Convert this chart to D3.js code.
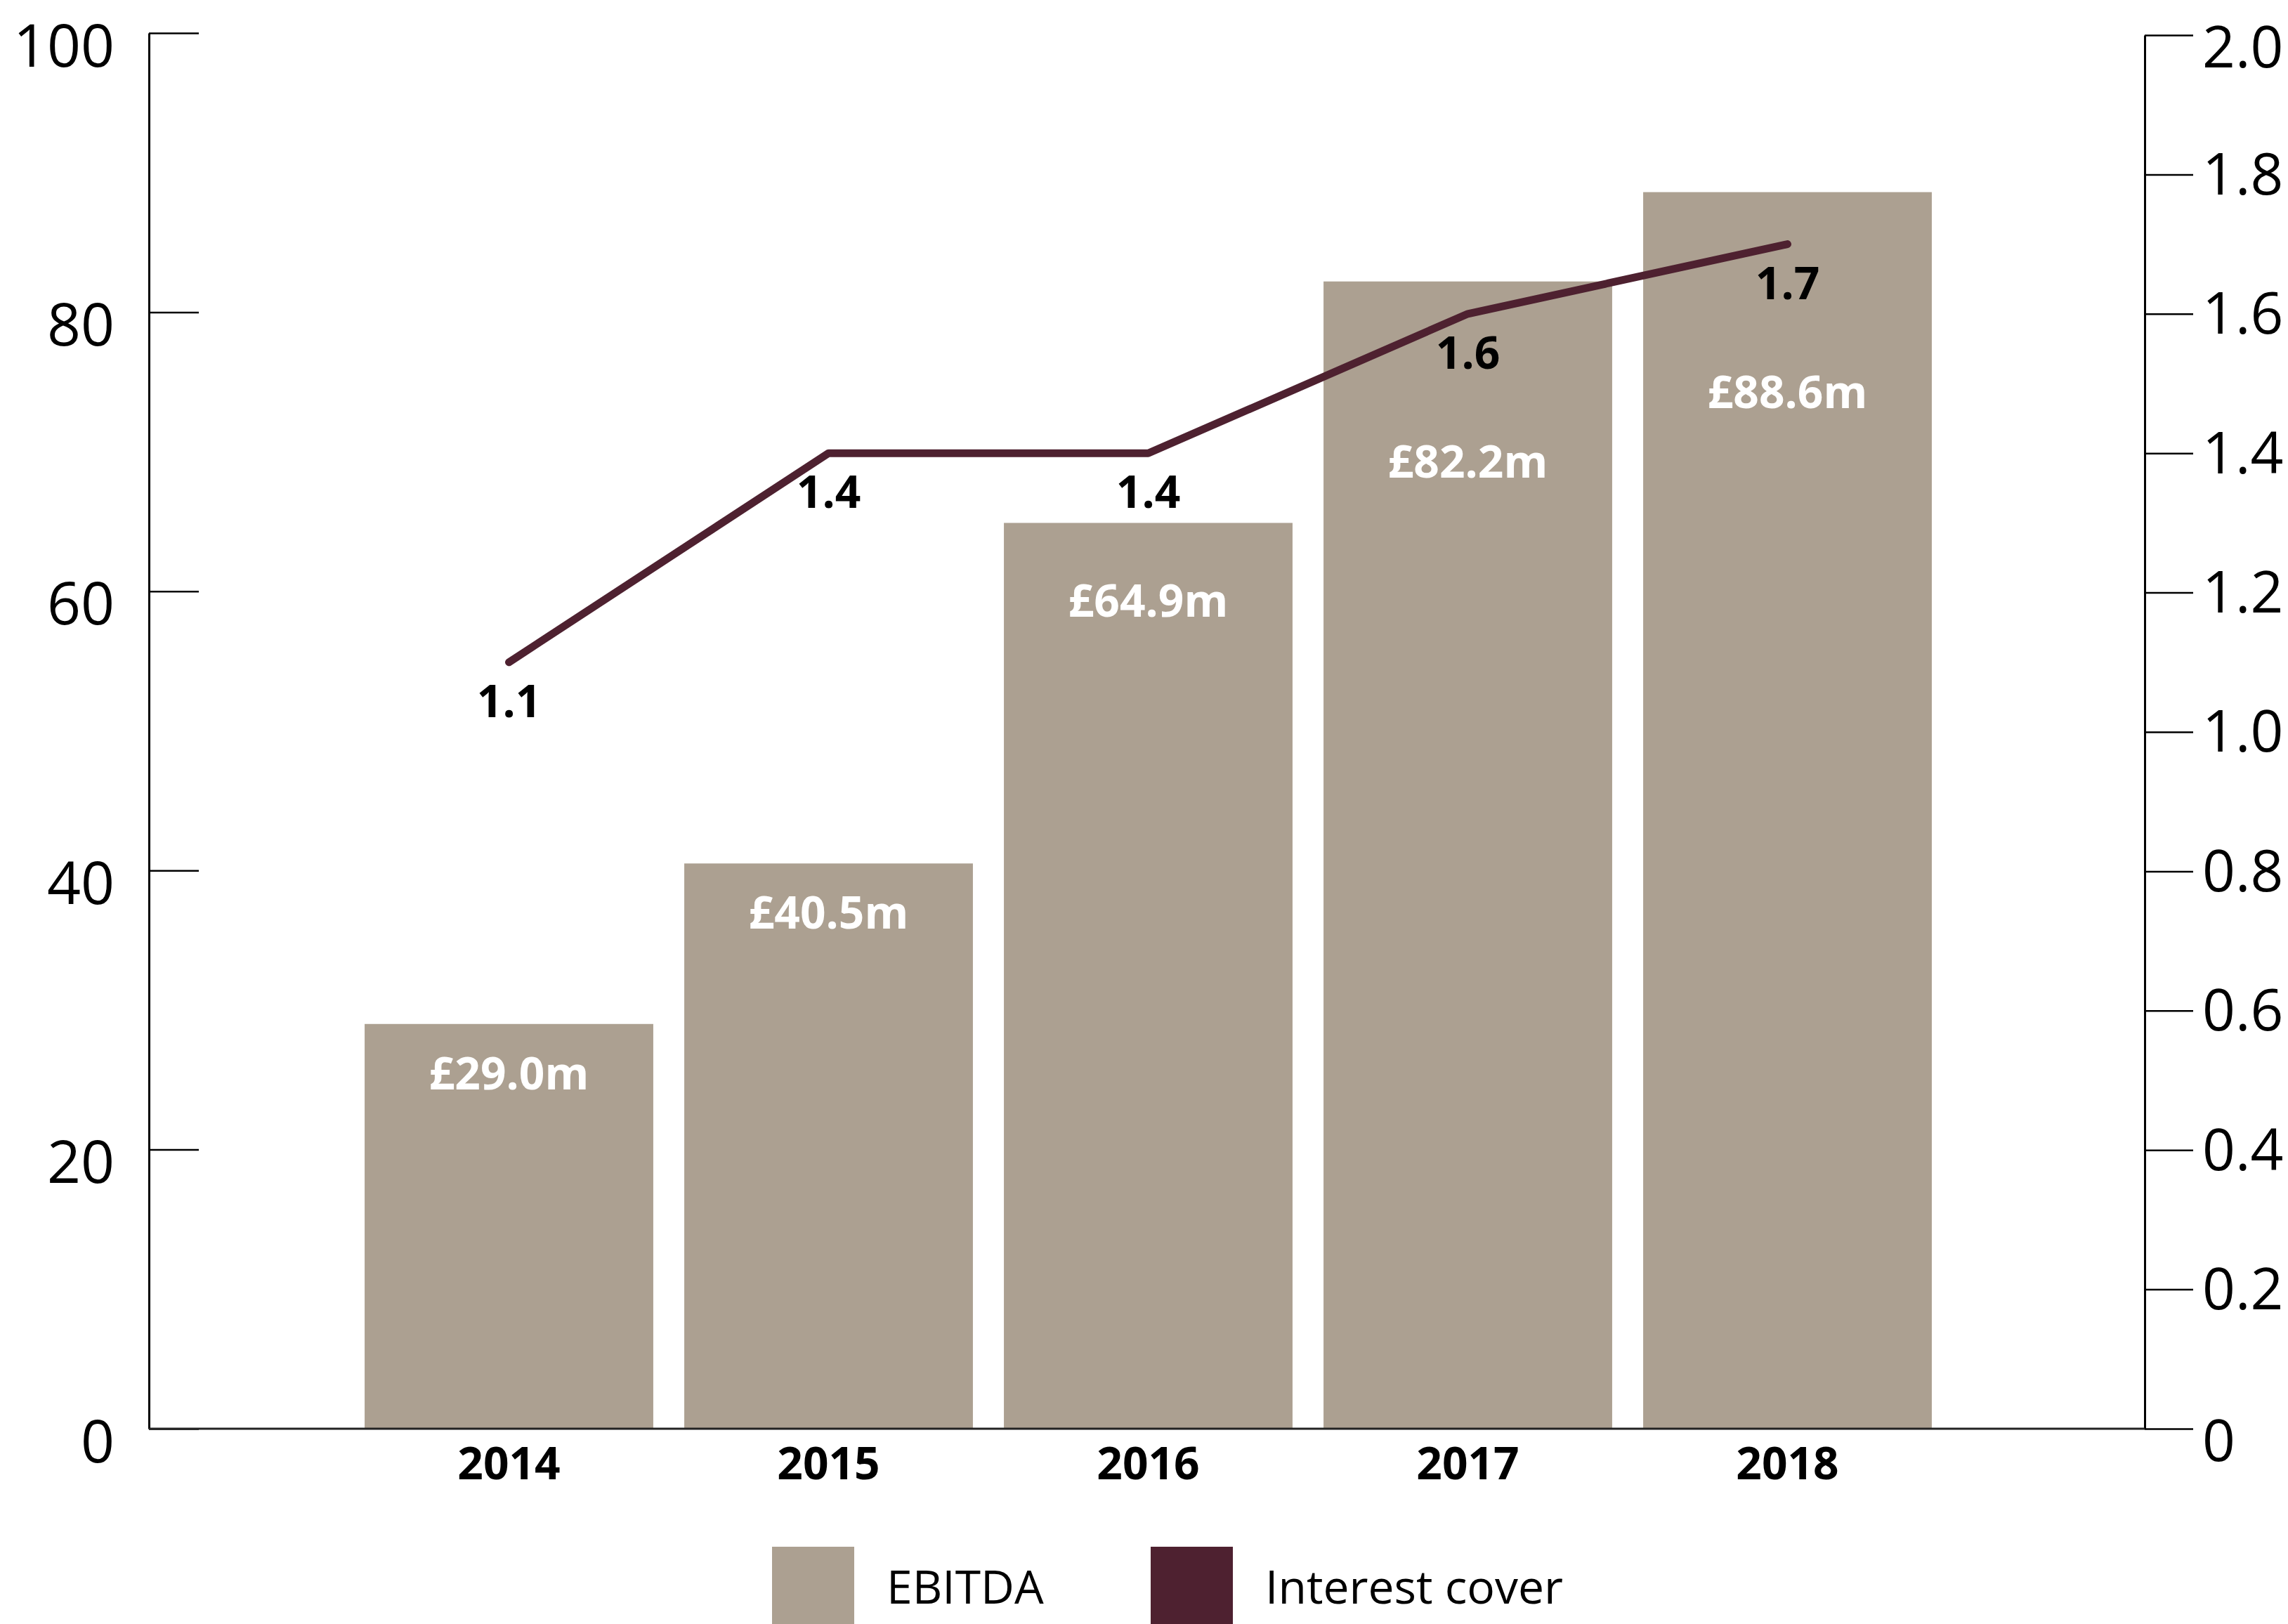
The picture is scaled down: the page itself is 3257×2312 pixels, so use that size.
<!DOCTYPE html>
<html>
<head>
<meta charset="utf-8">
<script src="https://cdn.jsdelivr.net/npm/d3@7/dist/d3.min.js"></script>
<style>
  html, body { margin: 0; padding: 0; background: #ffffff; }
  svg { display: block; font-family: "Open Sans", "Noto Sans", sans-serif; }
</style>
</head>
<body>
<script>
// EBITDA (£m) and interest cover by financial year
const years = ["2014", "2015", "2016", "2017", "2018"];
const ebitda = [29.0, 40.5, 64.9, 82.2, 88.6];
const interestCover = [1.1, 1.4, 1.4, 1.6, 1.7];
const leftTicks = [0, 20, 40, 60, 80, 100];
const rightTicks = [0, 0.2, 0.4, 0.6, 0.8, 1.0, 1.2, 1.4, 1.6, 1.8, 2.0];
const legendLabels = ["EBITDA", "Interest cover"];

const W = 3257, H = 2312;
const barColor = "#aca091";
const lineColor = "#4e2130";

const plot = { left: 212, right: 3053, bottom: 2034 };

const svg = d3.select("body").append("svg")
  .attr("width", W).attr("height", H);

const x = d3.scaleBand()
  .domain(years)
  .range([497, 2772])
  .paddingInner(0.097)
  .paddingOuter(0.0485);

const yL = d3.scaleLinear().domain([0, 100]).range([plot.bottom, 47]);
const yR = d3.scaleLinear().domain([0, 2]).range([plot.bottom, 50]);

// Bars
svg.append("g").selectAll("rect")
  .data(years)
  .join("rect")
  .attr("x", d => x(d))
  .attr("width", x.bandwidth())
  .attr("y", (d, i) => yL(ebitda[i]))
  .attr("height", (d, i) => plot.bottom - yL(ebitda[i]))
  .attr("fill", barColor);

// Left axis: ticks point into the plot
const gL = svg.append("g")
  .attr("transform", `translate(${plot.left},0)`)
  .call(d3.axisLeft(yL).tickValues(leftTicks).tickSizeInner(-71).tickSizeOuter(0).tickPadding(49));
gL.select(".domain").attr("stroke", "#000").attr("stroke-width", 3);
gL.selectAll(".tick line").attr("stroke", "#000").attr("stroke-width", 2.5);
gL.selectAll(".tick text")
  .attr("font-size", 84).attr("fill", "#000")
  .attr("font-family", "'Open Sans', 'Noto Sans', sans-serif")
  .attr("dy", "0.56em");

// Right axis: ticks point outward; end labels sit a little below their ticks
const gR = svg.append("g")
  .attr("transform", `translate(${plot.right},0)`)
  .call(d3.axisRight(yR).tickValues(rightTicks).tickSizeInner(69).tickSizeOuter(0).tickPadding(13)
    .tickFormat(d => d === 0 ? "0" : d3.format(".1f")(d)));
gR.select(".domain").attr("stroke", "#000").attr("stroke-width", 3);
gR.selectAll(".tick line").attr("stroke", "#000").attr("stroke-width", 2.5);
gR.selectAll(".tick text")
  .attr("font-size", 82).attr("fill", "#000")
  .attr("font-family", "'Open Sans', 'Noto Sans', sans-serif")
  .attr("dy", d => (d === 0 || d === 2) ? "0.56em" : "0.34em");

// Baseline
svg.append("line")
  .attr("x1", plot.left).attr("x2", plot.right)
  .attr("y1", plot.bottom).attr("y2", plot.bottom)
  .attr("stroke", "#222").attr("stroke-width", 3);

// Year labels
svg.append("g").selectAll("text")
  .data(years)
  .join("text")
  .attr("x", d => x(d) + x.bandwidth() / 2)
  .attr("y", 2083)
  .attr("dy", "0.36em")
  .attr("text-anchor", "middle")
  .attr("font-size", 64)
  .attr("font-weight", 700)
  .attr("fill", "#000")
  .text(d => d);

// Interest cover line
const cx = d => x(d) + x.bandwidth() / 2;
const line = d3.line()
  .x((d, i) => cx(years[i]))
  .y(d => yR(d));

svg.append("path")
  .datum(interestCover)
  .attr("d", line)
  .attr("fill", "none")
  .attr("stroke", lineColor)
  .attr("stroke-width", 11)
  .attr("stroke-linecap", "round")
  .attr("stroke-linejoin", "round");

// Interest cover value labels, below each point
const coverLabelY = i => yR(interestCover[i]) + 55;
svg.append("g").selectAll("text")
  .data(interestCover)
  .join("text")
  .attr("x", (d, i) => cx(years[i]))
  .attr("y", (d, i) => coverLabelY(i))
  .attr("dy", "0.36em")
  .attr("text-anchor", "middle")
  .attr("font-size", 64)
  .attr("font-weight", 700)
  .attr("fill", "#000")
  .text(d => d3.format(".1f")(d));

// EBITDA value labels inside bars, kept clear of the cover labels
svg.append("g").selectAll("text")
  .data(ebitda)
  .join("text")
  .attr("x", (d, i) => cx(years[i]))
  .attr("y", (d, i) => Math.max(yL(d) + 70, coverLabelY(i) + 155))
  .attr("dy", "0.36em")
  .attr("text-anchor", "middle")
  .attr("font-size", 64)
  .attr("font-weight", 700)
  .attr("fill", "#ffffff")
  .text(d => "£" + d3.format(".1f")(d) + "m");

// Legend
const legend = svg.append("g");
const legendX = [1099, 1638];
const legendColors = [barColor, lineColor];
legend.selectAll("rect")
  .data(legendLabels)
  .join("rect")
  .attr("x", (d, i) => legendX[i])
  .attr("y", 2202)
  .attr("width", 117)
  .attr("height", 120)
  .attr("fill", (d, i) => legendColors[i]);
legend.selectAll("text")
  .data(legendLabels)
  .join("text")
  .attr("x", (d, i) => legendX[i] + 163)
  .attr("y", 2283)
  .attr("font-size", 66)
  .attr("fill", "#000")
  .text(d => d);
</script>
</body>
</html>
